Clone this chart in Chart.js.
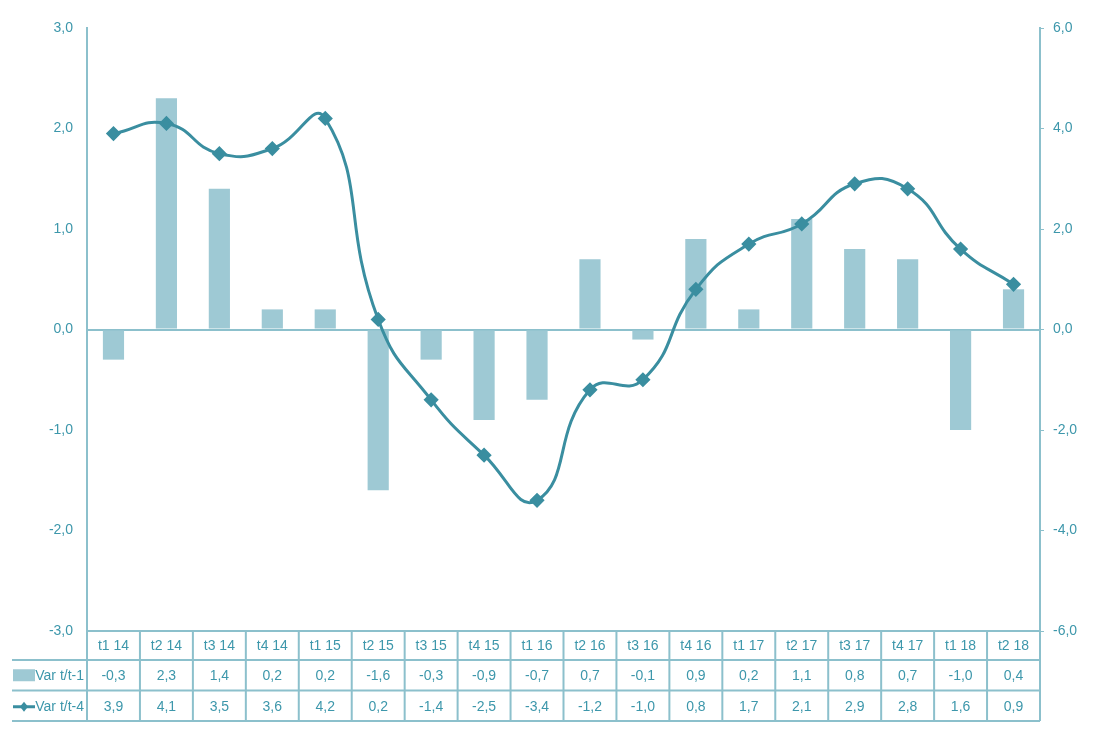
<!DOCTYPE html>
<html><head><meta charset="utf-8">
<script src="https://cdn.jsdelivr.net/npm/chart.js@4/dist/chart.umd.min.js"></script>
<style>html,body{margin:0;padding:0;background:#fff;}#wrap{width:1101px;height:738px;position:relative;}</style>
</head><body><div id="wrap"><canvas id="c" width="1101" height="738"></canvas></div>
<script>
const categories = ['t1 14','t2 14','t3 14','t4 14','t1 15','t2 15','t3 15','t4 15','t1 16','t2 16','t3 16','t4 16','t1 17','t2 17','t3 17','t4 17','t1 18','t2 18'];
const varQuarter = [-0.3,2.3,1.4,0.2,0.2,-1.6,-0.3,-0.9,-0.7,0.7,-0.1,0.9,0.2,1.1,0.8,0.7,-1.0,0.4];
const varYear = [3.9,4.1,3.5,3.6,4.2,0.2,-1.4,-2.5,-3.4,-1.2,-1.0,0.8,1.7,2.1,2.9,2.8,1.6,0.9];
const seriesNames = ['Var t/t-1','Var t/t-4'];

const TXT = '#3d97ab';
const LINE = '#3a8ea0';
const BAR = '#9ec9d4';
const GRIDC = '#8cc0cc';
const FONT = '"Liberation Sans Narrow","Liberation Sans",Arial,sans-serif';
const fmt = v => v.toFixed(1).replace('.', ',');

const tablePlugin = {
  id: 'dataTable',
  afterDraw(chart) {
    const ctx = chart.ctx, ca = chart.chartArea;
    const n = categories.length;
    const step = (ca.right - ca.left) / n;
    const rowH = 30.5;
    const y0 = ca.bottom, y1 = y0 + 29, y2 = y1 + rowH, y3 = y2 + rowH;
    const xLeft = 12;
    ctx.save();
    ctx.strokeStyle = GRIDC;
    ctx.lineWidth = 2;
    ctx.beginPath();
    ctx.moveTo(ca.left, y0); ctx.lineTo(ca.right, y0);
    [y1, y2, y3].forEach(y => { ctx.moveTo(xLeft, y); ctx.lineTo(ca.right, y); });
    for (let i = 0; i <= n; i++) {
      const x = ca.left + i * step;
      ctx.moveTo(x, y0); ctx.lineTo(x, y3);
    }
    ctx.stroke();
    ctx.fillStyle = TXT;
    ctx.font = '14px ' + FONT;
    ctx.textAlign = 'center';
    ctx.textBaseline = 'middle';
    for (let i = 0; i < n; i++) {
      const cx = chart.scales.x.getPixelForValue(i);
      ctx.fillText(categories[i], cx, (y0 + y1) / 2 + 1);
      ctx.fillText(fmt(varQuarter[i]), cx, (y1 + y2) / 2 + 1);
      ctx.fillText(fmt(varYear[i]), cx, (y2 + y3) / 2 + 1);
    }
    ctx.textAlign = 'right';
    ctx.fillText(seriesNames[0], ca.left - 3, (y1 + y2) / 2 + 1);
    ctx.fillText(seriesNames[1], ca.left - 3, (y2 + y3) / 2 + 1);
    ctx.fillStyle = BAR;
    ctx.fillRect(13, (y1 + y2) / 2 - 6, 22, 12);
    const ly = (y2 + y3) / 2 + 1;
    ctx.strokeStyle = LINE; ctx.lineWidth = 3;
    ctx.beginPath(); ctx.moveTo(13, ly); ctx.lineTo(35, ly); ctx.stroke();
    ctx.fillStyle = LINE;
    ctx.beginPath(); ctx.moveTo(24, ly - 5); ctx.lineTo(28, ly); ctx.lineTo(24, ly + 5); ctx.lineTo(20, ly); ctx.closePath(); ctx.fill();
    ctx.restore();
  }
};

new Chart(document.getElementById('c'), {
  data: {
    labels: categories,
    datasets: [
      { type: 'line', label: seriesNames[1], data: varYear, yAxisID: 'y2',
        borderColor: LINE, backgroundColor: LINE, borderWidth: 3, tension: 0.5,
        pointStyle: 'rectRot', pointRadius: 5.5, pointBackgroundColor: LINE, pointBorderColor: LINE, order: 0 },
      { type: 'bar', label: seriesNames[0], data: varQuarter, yAxisID: 'y',
        backgroundColor: BAR, borderWidth: 0, barPercentage: 0.5, categoryPercentage: 0.8, order: 1 }
    ]
  },
  options: {
    responsive: false, animation: false,
    layout: { padding: { top: 28, bottom: 107, left: 0, right: 0 } },
    plugins: { legend: { display: false }, tooltip: { enabled: false } },
    scales: {
      x: { display: false, offset: true, grid: { display: false } },
      y: {
        position: 'left', min: -3, max: 3,
        ticks: { stepSize: 1, color: TXT, font: { family: FONT, size: 14 }, callback: v => fmt(v), padding: 14 },
        grid: { drawTicks: false, color: c => c.tick.value === 0 ? GRIDC : 'rgba(0,0,0,0)', lineWidth: 2 },
        border: { color: GRIDC, width: 2 },
        afterFit: s => { s.width = 87; }
      },
      y2: {
        position: 'right', min: -6, max: 6,
        ticks: { stepSize: 2, color: TXT, font: { family: FONT, size: 14 }, callback: v => fmt(v), padding: 9 },
        grid: { drawOnChartArea: false, drawTicks: true, tickLength: 4, color: GRIDC },
        border: { color: GRIDC, width: 2 },
        afterFit: s => { s.width = 61; }
      }
    }
  },
  plugins: [tablePlugin]
});
</script></body></html>
